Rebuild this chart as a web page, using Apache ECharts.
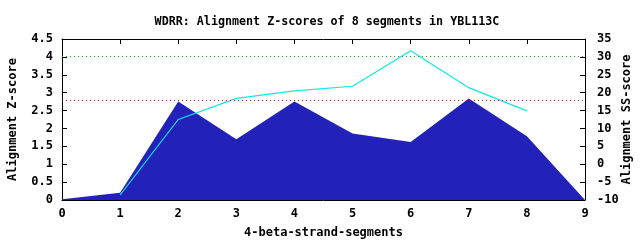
<!DOCTYPE html>
<html><head><meta charset="utf-8">
<script src="https://cdn.jsdelivr.net/npm/echarts@6/dist/echarts.min.js"></script>
<style>html,body{margin:0;padding:0;background:#fff}#c{width:640px;height:240px}</style>
</head><body><div id="c"></div>
<script>
const segments = [0, 1, 2, 3, 4, 5, 6, 7, 8, 9];
const zScores = [0.02, 0.2, 2.75, 1.7, 2.75, 1.86, 1.62, 2.84, 1.78, 0];
const ssSegments = [1, 2, 3, 4, 5, 6, 7, 8];
const ssScores = [-8.6, 12.5, 18.4, 20.5, 21.8, 31.7, 21.4, 14.9];
const zThresholdGreen = 4.03;
const zThresholdRed = 2.78;

const font = 'DejaVu Sans Mono';
const chart = echarts.init(document.getElementById('c'), null, {renderer: 'canvas'});
const axisTxt = {color: '#000', fontFamily: font, fontWeight: 'bold', fontSize: 12};
chart.setOption({
  animation: false,
  title: {
    text: 'WDRR: Alignment Z-scores of 8 segments in YBL113C',
    left: 322, top: 11, textAlign: 'center',
    textStyle: {color: '#000', fontFamily: font, fontWeight: 'bold', fontSize: 11.7}
  },
  grid: {left: 62, right: 55, top: 39, bottom: 40, outerBoundsMode: 'none', containLabel: false},
  xAxis: [{
    type: 'value', min: 0, max: 9, interval: 1,
    name: '4-beta-strand-segments', nameLocation: 'middle', nameGap: 27, nameMoveOverlap: false,
    nameTextStyle: axisTxt,
    axisLine: {onZero: false, lineStyle: {color: '#000', width: 1}},
    axisTick: {inside: true, length: 5, lineStyle: {color: '#000'}},
    axisLabel: Object.assign({margin: 8}, axisTxt),
    splitLine: {show: false}
  }, {
    type: 'value', min: 0, max: 9, interval: 1, position: 'top',
    axisLine: {onZero: false, lineStyle: {color: '#000', width: 1}},
    axisTick: {inside: true, length: 5, lineStyle: {color: '#000'}},
    axisLabel: {show: false}, splitLine: {show: false}
  }],
  yAxis: [{
    type: 'value', min: 0, max: 4.5, interval: 0.5,
    name: 'Alignment Z-score', nameLocation: 'middle', nameGap: 43, nameMoveOverlap: false,
    nameTextStyle: axisTxt,
    axisLine: {show: true, onZero: false, lineStyle: {color: '#000', width: 1}},
    axisTick: {show: true, inside: true, length: 5, lineStyle: {color: '#000'}},
    axisLabel: Object.assign({margin: 9}, axisTxt),
    splitLine: {show: false}
  }, {
    type: 'value', min: -10, max: 35, interval: 5,
    name: 'Alignment SS-score', nameLocation: 'middle', nameGap: 36, nameMoveOverlap: false,
    nameTextStyle: axisTxt,
    axisLine: {show: true, onZero: false, lineStyle: {color: '#000', width: 1}},
    axisTick: {show: true, inside: true, length: 5, lineStyle: {color: '#000'}},
    axisLabel: Object.assign({margin: 12}, axisTxt),
    splitLine: {show: false}
  }],
  series: [{
    type: 'line', xAxisIndex: 0, yAxisIndex: 0,
    data: segments.map((s, i) => [s, zScores[i]]),
    symbol: 'none', lineStyle: {width: 0, color: '#2222bb'},
    areaStyle: {color: '#2222bb', opacity: 1},
    z: 1
  }, {
    type: 'line', xAxisIndex: 0, yAxisIndex: 0, data: [],
    markLine: {
      silent: true, symbol: 'none', label: {show: false},
      lineStyle: {color: '#00c000', type: [1, 3], width: 1, opacity: 1},
      data: [{yAxis: zThresholdGreen}]
    },
    z: 2
  }, {
    type: 'line', xAxisIndex: 0, yAxisIndex: 0, data: [],
    markLine: {
      silent: true, symbol: 'none', label: {show: false},
      lineStyle: {color: '#ff0000', type: [1, 3], width: 1, opacity: 1},
      data: [{yAxis: zThresholdRed}]
    },
    z: 2
  }, {
    type: 'line', xAxisIndex: 0, yAxisIndex: 1,
    data: ssSegments.map((s, i) => [s, ssScores[i]]),
    symbol: 'none', lineStyle: {width: 1.2, color: '#10e8e8'},
    z: 3
  }]
});
</script></body></html>
